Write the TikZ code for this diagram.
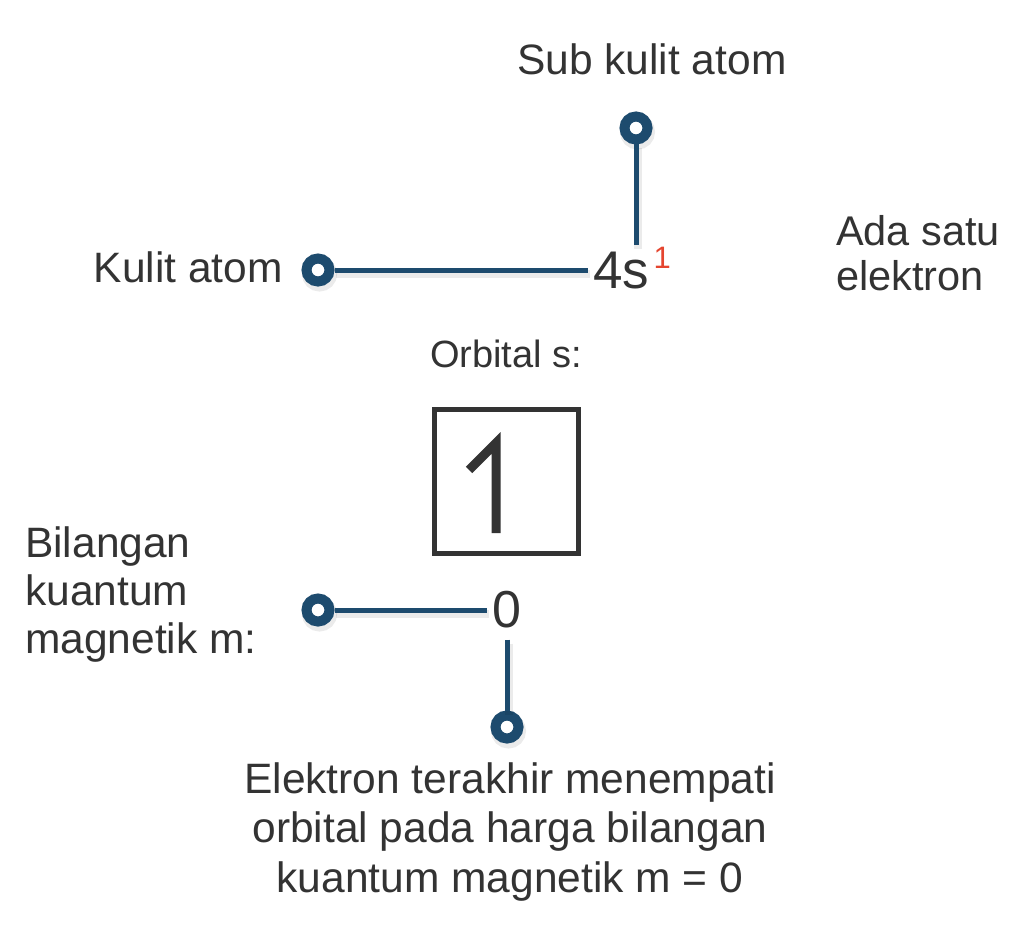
\documentclass[tikz,border=0pt]{standalone}
\usepackage{fontspec}
\setmainfont{Liberation Sans}
\usetikzlibrary{calc}
\definecolor{pinblue}{HTML}{1D4B6E}
\definecolor{ink}{HTML}{333333}
\definecolor{supred}{HTML}{E5452F}
\tikzset{
  lbl/.style={text=ink, inner sep=0pt, font=\fontsize{42.5}{48}\selectfont},
  pinnode/.style={circle, draw=pinblue, line width=10pt, fill=white, minimum size=23pt, inner sep=0pt,
    preaction={draw=black, draw opacity=0.08, fill=none, line width=12pt, transform canvas={shift={(1.5pt,-4pt)}}}},
  conn/.style={draw=pinblue, line width=5pt,
    preaction={draw=black, draw opacity=0.08, line width=8pt, transform canvas={shift={(1.5pt,-4pt)}}}},
}
\begin{document}
\begin{tikzpicture}[x=1pt,y=-1pt]
\useasboundingbox[fill=white] (0,0) rectangle (1023,931);

% top labels
\node[lbl, anchor=base west] (tSub) at (517,75) {Sub kulit atom};
\node[lbl, anchor=base east] (tKul) at (283,282) {Kulit atom};
\node[lbl, anchor=base west, align=left, font=\fontsize{41.5}{45}\selectfont] (tAda) at (836,290) {Ada satu\\elektron};

% 4s^1
\node[text=ink, font=\fontsize{53}{53}\selectfont, anchor=base west, inner xsep=5pt, inner ysep=6pt] (t4s) at (588,288) {4s};
\node[text=supred, font=\fontsize{31}{31}\selectfont, anchor=base west, inner sep=0pt] (tsup) at ($(t4s.base east)+(-1,-20)$) {1};

% pins top
\node[pinnode] (pinS) at (636,128) {};
\node[pinnode] (pinK) at (318,270) {};
\draw[conn] (pinS) -- (pinS |- t4s.north);
\draw[conn] (pinK) -- (pinK -| t4s.west);

% orbital
\node[lbl, anchor=base west, font=\fontsize{38}{38}\selectfont] (tOrb) at (430,367) {Orbital s:};
\node[draw=ink, line width=5pt, minimum size=144pt, inner sep=0pt] (box) at (506.5,481.5) {};
\draw[ink, line width=9pt, line join=miter]
  ($(box.center)+(-37.5,-11.5)$) -- ($(box.center)+(-10.5,-38.5)$) -- ($(box.center)+(-10.5,51.5)$);

% 0
\node[text=ink, font=\fontsize{52}{52}\selectfont, anchor=base, inner xsep=5pt, inner ysep=12pt] (t0) at (507,627) {0};
\node[pinnode] (pinL) at (318,610) {};
\node[pinnode] (pinD) at (507,727) {};
\draw[conn] (pinL) -- (pinL -| t0.west);
\draw[conn] (t0.south) -- (pinD);

% lower labels
\node[lbl, anchor=base west, align=left, font=\fontsize{42.5}{48}\selectfont] (tBil) at (25,653) {Bilangan\\kuantum\\magnetik m:};
\node[lbl, anchor=base, align=center, font=\fontsize{42.5}{49.5}\selectfont] (tEle) at (510,892) {Elektron terakhir menempati\\orbital pada harga bilangan\\kuantum magnetik m = 0};
\end{tikzpicture}
\end{document}
